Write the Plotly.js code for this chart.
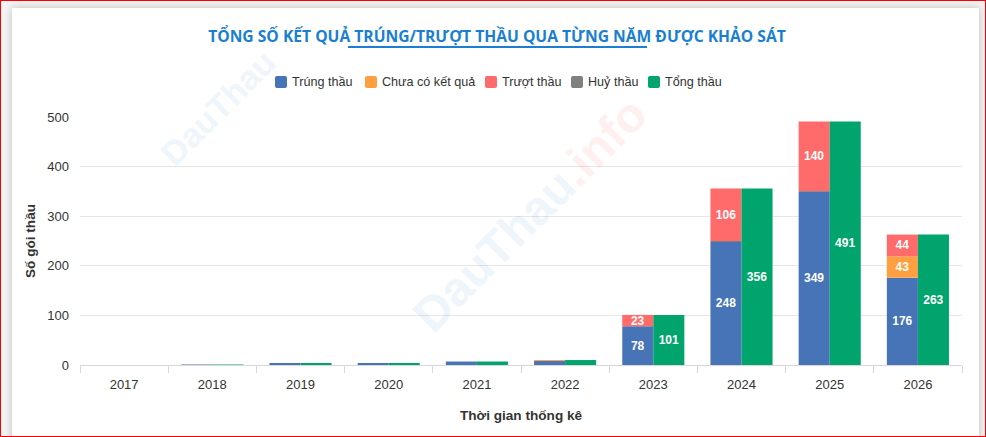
<!DOCTYPE html>
<html>
<head>
<meta charset="utf-8">
<script src="https://cdn.plot.ly/plotly-3.0.1.min.js"></script>
<style>
  html, body { margin: 0; padding: 0; background: #ffffff; }
  #wrap { position: relative; width: 986px; height: 437px; overflow: hidden; background: #f4f4f4; }
  #card { position: absolute; left: 12px; top: 8px; right: 7px; bottom: -12px; background: #ffffff;
          box-shadow: 0 0 8px rgba(0,0,0,0.22); }
  #chart { position: absolute; left: 0; top: 0; width: 986px; height: 437px; }
  #frame { position: absolute; left: 0; top: 0; width: 986px; height: 437px; box-sizing: border-box;
           border: 1px solid #ff0000; pointer-events: none; }
</style>
</head>
<body>
<div id="wrap">
  <div id="card"></div>
  <div id="chart"></div>
  <div id="frame"></div>
</div>
<script>
// ---- data ----
const years      = ['2017','2018','2019','2020','2021','2022','2023','2024','2025','2026'];
const trungThau  = [0, 1, 4, 4, 7, 8, 78, 248, 349, 176];
const chuaCoKQ   = [0, 0, 0, 0, 0, 2, 0, 0, 0, 43];
const truotThau  = [0, 0, 0, 0, 0, 0, 23, 106, 140, 44];
const huyThau    = [0, 0, 0, 0, 0, 0, 0, 2, 2, 0];
const tongThau   = [0, 1, 4, 4, 7, 10, 101, 356, 491, 263];

const seriesNames = ['Trúng thầu', 'Chưa có kết quả', 'Trượt thầu', 'Huỷ thầu', 'Tổng thầu'];
const colors = ['#4674b6', '#ff9f40', '#ff6b6b', '#808080', '#00a46c'];

// stacking order (bottom -> top): Trúng, Chưa có, Huỷ, Trượt
const stackOrder = [
  {name: seriesNames[0], vals: trungThau, color: colors[0]},
  {name: seriesNames[1], vals: chuaCoKQ,  color: colors[1]},
  {name: seriesNames[3], vals: huyThau,   color: colors[3]},
  {name: seriesNames[2], vals: truotThau, color: colors[2]}
];

const font = 'Liberation Sans, Arial, sans-serif';
const BW = 0.352;
const labelText = v => v.map(x => x >= 20 ? String(x) : '');
const txtFont = {family: font, size: 12, color: '#ffffff', weight: 'bold'};
const traces = [];
let base = years.map(() => 0);
stackOrder.forEach(s => {
  traces.push({
    type: 'bar', name: s.name, x: years, y: s.vals, base: base.slice(),
    width: BW, offset: -BW,
    marker: {color: s.color, line: {width: 0}},
    text: labelText(s.vals), textposition: 'inside', insidetextanchor: 'middle', textangle: 0,
    constraintext: 'none', cliponaxis: false,
    textfont: txtFont, insidetextfont: txtFont,
    showlegend: false
  });
  base = base.map((b, i) => b + s.vals[i]);
});
traces.push({
  type: 'bar', name: seriesNames[4], x: years, y: tongThau, base: years.map(() => 0),
  width: BW, offset: 0,
  marker: {color: colors[4], line: {width: 0}},
  text: labelText(tongThau), textposition: 'inside', insidetextanchor: 'middle', textangle: 0,
  constraintext: 'none', cliponaxis: false,
  textfont: txtFont, insidetextfont: txtFont,
  showlegend: false
});

const L = 80, R = 962, T = 117, B = 365;
const px2x = p => (p - L) / (R - L);
const py2y = p => (B - p) / (B - T);

// legend (drawn as shapes + text, positioned like the reference)
const legendSymbolX = [275, 365, 485, 571, 648];
const legendY = 82;
const shapes = [
  {type: 'line', xref: 'paper', yref: 'paper',
   x0: px2x(348), x1: px2x(647), y0: py2y(47), y1: py2y(47),
   line: {color: '#1a7fd2', width: 2}}
];
const annotations = [];
seriesNames.forEach((nm, i) => {
  const x0 = legendSymbolX[i], x1 = x0 + 12, y0 = legendY - 6, y1 = legendY + 6, r = 2;
  const X = px2x, Y = py2y;
  shapes.push({
    type: 'path', xref: 'paper', yref: 'paper', fillcolor: colors[i], line: {width: 0},
    path: `M ${X(x0 + r)} ${Y(y0)} L ${X(x1 - r)} ${Y(y0)} Q ${X(x1)} ${Y(y0)} ${X(x1)} ${Y(y0 + r)} ` +
          `L ${X(x1)} ${Y(y1 - r)} Q ${X(x1)} ${Y(y1)} ${X(x1 - r)} ${Y(y1)} ` +
          `L ${X(x0 + r)} ${Y(y1)} Q ${X(x0)} ${Y(y1)} ${X(x0)} ${Y(y1 - r)} ` +
          `L ${X(x0)} ${Y(y0 + r)} Q ${X(x0)} ${Y(y0)} ${X(x0 + r)} ${Y(y0)} Z`
  });
  annotations.push({
    text: nm, xref: 'paper', yref: 'paper', x: px2x(x1 + 3), y: py2y(legendY),
    xanchor: 'left', yanchor: 'middle', showarrow: false,
    font: {family: font, size: 12.6, color: '#333333'}
  });
});
annotations.push(
  {text: 'DauThau', xref: 'paper', yref: 'paper', x: px2x(150), y: py2y(40),
   showarrow: false, textangle: -45, opacity: 0.07,
   font: {family: font, size: 34, color: '#1a7fd2', weight: 'bold'}},
  {text: 'DauThau<span style="color:#ff3b3b">.info</span>', xref: 'paper', yref: 'paper',
   x: px2x(530), y: py2y(345),
   showarrow: false, textangle: -45, opacity: 0.07,
   font: {family: font, size: 48, color: '#1a7fd2', weight: 'bold'}}
);

const layout = {
  width: 986, height: 437,
  margin: {l: L, r: 986 - R, t: T, b: 437 - B, pad: 0, autoexpand: false},
  paper_bgcolor: 'rgba(0,0,0,0)', plot_bgcolor: 'rgba(0,0,0,0)',
  barmode: 'overlay',
  uniformtext: {mode: 'show', minsize: 12},
  font: {family: font, size: 13, color: '#333333'},
  showlegend: false,
  title: {
    text: 'TỔNG SỐ KẾT QUẢ TRÚNG/TRƯỢT THẦU QUA TỪNG NĂM ĐƯỢC KHẢO SÁT',
    font: {family: 'Open Sans, sans-serif', size: 15.65, color: '#1a7fd2', weight: 'bold'},
    x: 497 / 986, xref: 'container', xanchor: 'center',
    y: 1 - 37/437, yref: 'container', yanchor: 'middle'
  },
  xaxis: {
    type: 'category', range: [-0.5, 9.5], fixedrange: true,
    showgrid: false, zeroline: false,
    showline: true, linecolor: '#d8d8d8', linewidth: 1,
    ticks: 'outside', tickson: 'boundaries', ticklen: 7, tickcolor: '#d8d8d8', tickwidth: 1,
    tickangle: 0, ticklabelstandoff: 7,
    tickfont: {family: font, size: 13, color: '#333333'},
    title: {text: 'Thời gian thống kê', standoff: 19,
            font: {family: font, size: 13.6, color: '#333333', weight: 'bold'}}
  },
  yaxis: {
    range: [0, 500], fixedrange: true, dtick: 100,
    showgrid: true, gridcolor: '#e6e6e6', gridwidth: 1,
    zeroline: false, showline: false, ticks: '', ticklen: 0,
    ticklabelstandoff: 10,
    tickfont: {family: font, size: 13, color: '#333333'},
    title: {text: 'Số gói thầu', standoff: 8,
            font: {family: font, size: 13.6, color: '#333333', weight: 'bold'}}
  },
  shapes: shapes,
  annotations: annotations
};

Plotly.newPlot('chart', traces, layout, {displayModeBar: false, staticPlot: true});
</script>
</body>
</html>
